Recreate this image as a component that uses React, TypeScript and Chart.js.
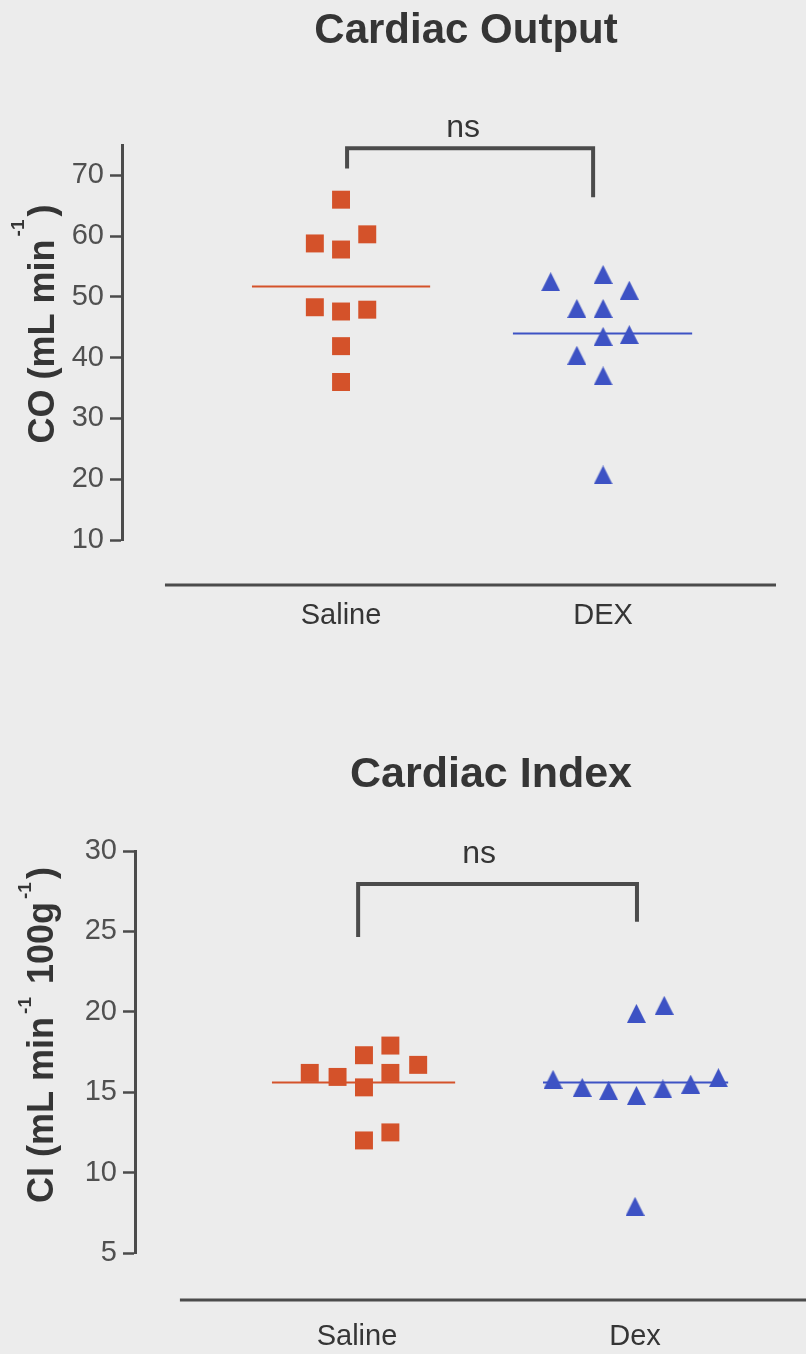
import React, { useEffect, useRef } from 'react';
import { Chart, registerables } from 'chart.js';

Chart.register(...registerables);

const FONT = "'Liberation Sans', Arial, Helvetica, sans-serif";
const BG = '#ececec';
const ORANGE = '#d4522a';
const BLUE = '#3d52c4';
const INK = '#4b4b4b';
const TEXT = '#353535';

// ---------- Panel 1: Cardiac Output ----------
const coTitle = 'Cardiac Output';
const coGroups = ['Saline', 'DEX'];
const coGroupPos = [1, 2];
const coTickValues = [10, 20, 30, 40, 50, 60, 70];
const coSalineX = [1.0, 0.9, 1.0, 1.1, 0.9, 1.0, 1.1, 1.0, 1.0];
const coSalineY = [66.0, 58.8, 57.8, 60.3, 48.3, 47.6, 47.9, 41.9, 36.0];
const coDexX = [1.8, 2.0, 2.1, 1.9, 2.0, 2.0, 2.1, 1.9, 2.0, 2.0];
const coDexY = [52.5, 53.7, 51.1, 48.1, 48.1, 43.5, 43.8, 40.4, 37.0, 20.7];
const coMeans = [51.7, 44.0];
const coMeanSpans = [[0.66, 1.34], [1.656, 2.34]];
const coBracketX = [1.023, 1.962];
const coBracketY = [74.45, 71.15, 66.4]; // bar, left foot, right foot
const coSigLabel = 'ns';
const coSigPos = [1.466, 76.25];
const coYTitle = [
  { t: 'CO (mL min', sup: false },
  { t: '-1', sup: true },
  { t: ')', sup: false },
];

// ---------- Panel 2: Cardiac Index ----------
const ciTitle = 'Cardiac Index';
const ciGroups = ['Saline', 'Dex'];
const ciGroupPos = [1, 2];
const ciTickValues = [5, 10, 15, 20, 25, 30];
const ciSalineX = [0.83, 0.93, 1.025, 1.025, 1.12, 1.12, 1.22, 1.025, 1.12];
const ciSalineY = [16.2, 15.95, 17.3, 15.3, 17.9, 16.2, 16.7, 12.0, 12.5];
const ciDexX = [1.705, 1.81, 1.905, 2.005, 2.10, 2.20, 2.30, 2.005, 2.105, 2.0];
const ciDexY = [15.8, 15.3, 15.1, 14.8, 15.2, 15.5, 15.9, 19.9, 20.4, 7.9];
const ciMeans = [15.6, 15.6];
const ciMeanSpans = [[0.694, 1.353], [1.669, 2.335]];
const ciBracketX = [1.004, 2.007];
const ciBracketY = [27.95, 24.65, 25.6];
const ciSigLabel = 'ns';
const ciSigPos = [1.439, 29.25];
const ciYTitle = [
  { t: 'CI (mL min', sup: false },
  { t: '-1', sup: true },
  { t: ' 100g', sup: false },
  { t: '-1', sup: true },
  { t: ')', sup: false },
];

function makeTriangle(color: string, w: number, h: number) {
  const c = document.createElement('canvas');
  c.width = w;
  c.height = h;
  const g = c.getContext('2d')!;
  g.fillStyle = color;
  g.beginPath();
  g.moveTo(w / 2, 0);
  g.lineTo(w, h);
  g.lineTo(0, h);
  g.closePath();
  g.fill();
  return c;
}

type PanelCfg = {
  title: string;
  titleX: number;
  titleBaseline: number;
  titleSize: number;
  groups: string[];
  groupPos: number[];
  ticks: number[];
  yMin: number;
  yMax: number;
  xMin: number;
  xMax: number;
  salineX: number[];
  salineY: number[];
  dexX: number[];
  dexY: number[];
  means: number[];
  meanSpans: number[][];
  bracketX: number[];
  bracketY: number[];
  sigLabel: string;
  sigPos: number[];
  yTitle: { t: string; sup: boolean }[];
  yTitleX: number;
  yTitleCY: number;
  supRaise: number;
  padTop: number;
  padRight: number;
  yAxisWidth: number;
  xScaleHeight: number;
  xLabelPad: number;
  baselineGap: number;
  baselineStart: number;
};

function Panel({ cfg }: { cfg: PanelCfg }) {
  const ref = useRef<HTMLCanvasElement | null>(null);
  useEffect(() => {
    if (!ref.current) return;
    const tri = makeTriangle(BLUE, 19, 19);
    const decor = {
      id: 'decor',
      afterDraw(chart: any) {
        const { ctx, chartArea } = chart;
        const x = chart.scales.x;
        const y = chart.scales.y;
        ctx.save();
        // offset x baseline
        ctx.strokeStyle = INK;
        ctx.lineWidth = 3;
        const by = chartArea.bottom + cfg.baselineGap;
        ctx.beginPath();
        ctx.moveTo(x.getPixelForValue(cfg.baselineStart), by);
        ctx.lineTo(chartArea.right, by);
        ctx.stroke();
        // significance bracket
        const bx0 = x.getPixelForValue(cfg.bracketX[0]);
        const bx1 = x.getPixelForValue(cfg.bracketX[1]);
        const byTop = y.getPixelForValue(cfg.bracketY[0]);
        ctx.lineWidth = 4;
        ctx.lineJoin = 'miter';
        ctx.beginPath();
        ctx.moveTo(bx0, y.getPixelForValue(cfg.bracketY[1]));
        ctx.lineTo(bx0, byTop);
        ctx.lineTo(bx1, byTop);
        ctx.lineTo(bx1, y.getPixelForValue(cfg.bracketY[2]));
        ctx.stroke();
        // ns label
        ctx.fillStyle = TEXT;
        ctx.font = `32px ${FONT}`;
        ctx.textAlign = 'center';
        ctx.textBaseline = 'alphabetic';
        ctx.fillText(cfg.sigLabel, x.getPixelForValue(cfg.sigPos[0]), y.getPixelForValue(cfg.sigPos[1]));
        // main title
        ctx.font = `bold ${cfg.titleSize}px ${FONT}`;
        ctx.fillText(cfg.title, cfg.titleX, cfg.titleBaseline);
        // y axis title with superscripts
        const mainFont = `bold 36px ${FONT}`;
        const supFont = `bold 19px ${FONT}`;
        const gap = 3;
        const widths = cfg.yTitle.map((s) => {
          ctx.font = s.sup ? supFont : mainFont;
          return ctx.measureText(s.t).width + (s.sup ? gap * 2 : 0);
        });
        const total = widths.reduce((a, b) => a + b, 0);
        ctx.translate(cfg.yTitleX, cfg.yTitleCY);
        ctx.rotate(-Math.PI / 2);
        ctx.textAlign = 'left';
        let pos = -total / 2;
        cfg.yTitle.forEach((s, i) => {
          ctx.font = s.sup ? supFont : mainFont;
          ctx.fillText(s.t, pos + (s.sup ? gap : 0), s.sup ? -cfg.supRaise : 0);
          pos += widths[i];
        });
        ctx.restore();
      },
    };

    const salinePts = cfg.salineX.map((v, i) => ({ x: v, y: cfg.salineY[i] }));
    const dexPts = cfg.dexX.map((v, i) => ({ x: v, y: cfg.dexY[i] }));
    const chart = new Chart(ref.current, {
      type: 'scatter',
      data: {
        datasets: [
          {
            label: cfg.groups[0],
            data: salinePts,
            pointStyle: 'rect',
            pointRadius: 12.7,
            pointHoverRadius: 12.7,
            backgroundColor: ORANGE,
            borderWidth: 0,
            clip: false,
          } as any,
          {
            label: cfg.groups[1],
            data: dexPts,
            pointStyle: tri,
            pointRadius: 9.5,
            pointHoverRadius: 9.5,
            backgroundColor: BLUE,
            borderWidth: 0,
            clip: false,
          } as any,
          {
            label: cfg.groups[0] + ' mean',
            data: [
              { x: cfg.meanSpans[0][0], y: cfg.means[0] },
              { x: cfg.meanSpans[0][1], y: cfg.means[0] },
            ],
            showLine: true,
            borderColor: ORANGE,
            borderWidth: 2,
            pointRadius: 0,
            clip: false,
          } as any,
          {
            label: cfg.groups[1] + ' mean',
            data: [
              { x: cfg.meanSpans[1][0], y: cfg.means[1] },
              { x: cfg.meanSpans[1][1], y: cfg.means[1] },
            ],
            showLine: true,
            borderColor: BLUE,
            borderWidth: 2,
            pointRadius: 0,
            clip: false,
          } as any,
        ],
      },
      options: {
        animation: false,
        responsive: false,
        events: [],
        layout: {
          autoPadding: false,
          padding: { top: cfg.padTop, right: cfg.padRight, left: 0, bottom: 0 },
        },
        plugins: {
          legend: { display: false },
          tooltip: { enabled: false },
          title: { display: false },
        },
        scales: {
          x: {
            type: 'linear',
            min: cfg.xMin,
            max: cfg.xMax,
            border: { display: false },
            grid: { display: false, drawTicks: false },
            afterBuildTicks: (s: any) => {
              s.ticks = cfg.groupPos.map((v) => ({ value: v }));
            },
            afterFit: (s: any) => {
              s.height = cfg.xScaleHeight;
            },
            ticks: {
              padding: cfg.xLabelPad,
              font: { family: FONT, size: 29 },
              color: TEXT,
              maxRotation: 0,
              autoSkip: false,
              callback: (_v: any, i: number) => cfg.groups[i],
            },
          },
          y: {
            type: 'linear',
            min: cfg.yMin,
            max: cfg.yMax,
            afterBuildTicks: (s: any) => {
              s.ticks = cfg.ticks.map((v) => ({ value: v }));
            },
            afterFit: (s: any) => {
              s.width = cfg.yAxisWidth;
            },
            border: { display: true, color: INK, width: 3 },
            grid: {
              display: true,
              drawOnChartArea: false,
              drawTicks: true,
              tickLength: 12,
              tickWidth: 2.5,
              tickColor: INK,
            },
            ticks: {
              padding: 6,
              font: { family: FONT, size: 29 },
              color: '#505050',
            },
          },
        },
      } as any,
      plugins: [decor],
    });
    return () => chart.destroy();
  }, [cfg]);
  return <canvas ref={ref} width={806} height={677} style={{ display: 'block' }} />;
}

const topCfg: PanelCfg = {
  title: coTitle,
  titleX: 466,
  titleBaseline: 43,
  titleSize: 42,
  groups: coGroups,
  groupPos: coGroupPos,
  ticks: coTickValues,
  yMin: 10,
  yMax: 75,
  xMin: 0.164,
  xMax: 2.66,
  salineX: coSalineX,
  salineY: coSalineY,
  dexX: coDexX,
  dexY: coDexY,
  means: coMeans,
  meanSpans: coMeanSpans,
  bracketX: coBracketX,
  bracketY: coBracketY,
  sigLabel: coSigLabel,
  sigPos: coSigPos,
  yTitle: coYTitle,
  yTitleX: 54,
  yTitleCY: 324,
  supRaise: 30,
  padTop: 145,
  padRight: 30,
  yAxisWidth: 122,
  xScaleHeight: 137,
  xLabelPad: 58.6,
  baselineGap: 45,
  baselineStart: 0.328,
};

const bottomCfg: PanelCfg = {
  title: ciTitle,
  titleX: 491,
  titleBaseline: 110,
  titleSize: 43,
  groups: ciGroups,
  groupPos: ciGroupPos,
  ticks: ciTickValues,
  yMin: 5,
  yMax: 30,
  xMin: 0.2014,
  xMax: 2.615,
  salineX: ciSalineX,
  salineY: ciSalineY,
  dexX: ciDexX,
  dexY: ciDexY,
  means: ciMeans,
  meanSpans: ciMeanSpans,
  bracketX: ciBracketX,
  bracketY: ciBracketY,
  sigLabel: ciSigLabel,
  sigPos: ciSigPos,
  yTitle: ciYTitle,
  yTitleX: 53,
  yTitleCY: 358,
  supRaise: 22,
  padTop: 174,
  padRight: 0,
  yAxisWidth: 135,
  xScaleHeight: 101,
  xLabelPad: 66.6,
  baselineGap: 47,
  baselineStart: 0.363,
};

export default function App() {
  return (
    <div
      style={{
        position: 'absolute',
        left: 0,
        top: 0,
        width: 806,
        height: 1354,
        background: BG,
        overflow: 'hidden',
      }}
    >
      <Panel cfg={topCfg} />
      <Panel cfg={bottomCfg} />
    </div>
  );
}
